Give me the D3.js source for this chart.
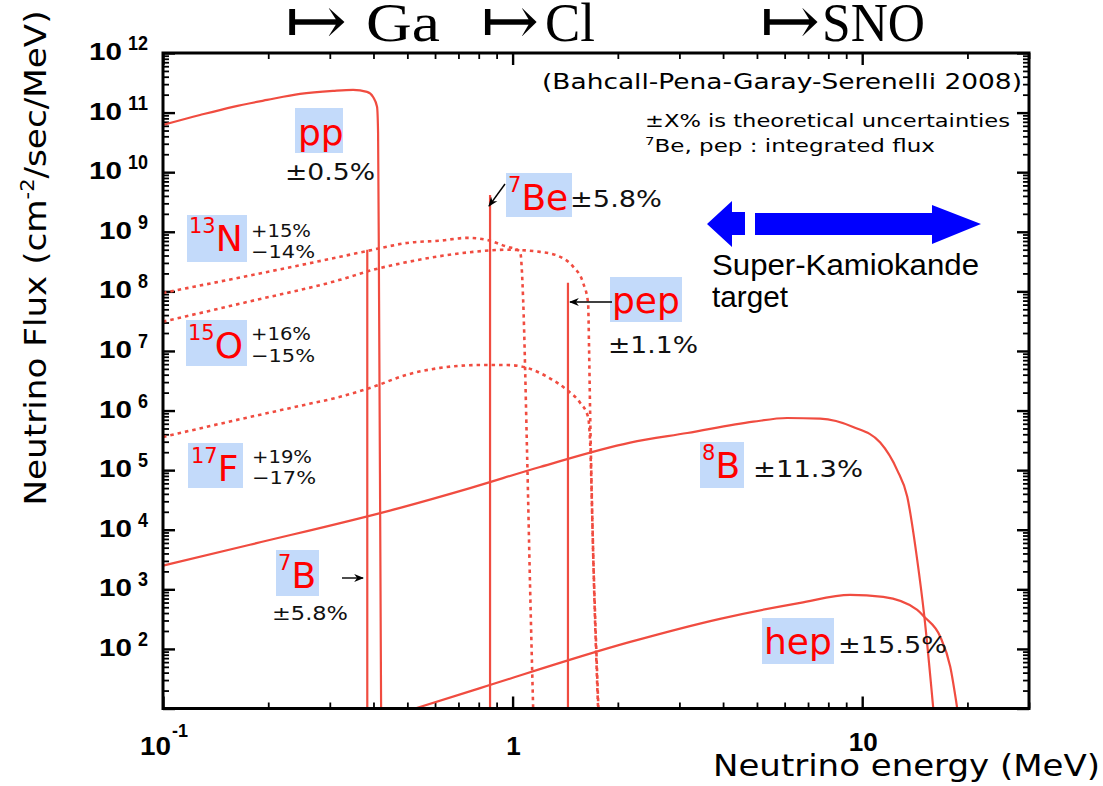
<!DOCTYPE html>
<html>
<head>
<meta charset="utf-8">
<script src="https://cdn.jsdelivr.net/npm/d3@7"></script>
<style>
body { margin: 0; background: #fff; }
svg { display: block; }
</style>
</head>
<body>
<div id="chart"></div>
<script>

// solar neutrino spectra, [energy (MeV), flux (cm^-2 s^-1 MeV^-1)]

var ppSpectrum = [[0.1, 6.2e10], [0.1276, 9.1e10], [0.1586, 1.25e11], [0.1985, 1.63e11], [0.2466, 2.06e11],
	[0.3064, 2.31e11], [0.3497, 2.40e11], [0.3834, 2.23e11], [0.399, 1.83e11], [0.4095, 1.25e11],
	[0.4123, 4.6e10], [0.415, 7.2e7], [0.4178, 3.2e4], [0.4206, 10]];

var n13Spectrum = [[0.1, 9.4e7], [0.1773, 1.85e8], [0.2466, 2.75e8], [0.3208, 3.8e8], [0.399, 5.0e8],
	[0.4991, 6.5e8], [0.6202, 7.1e8], [0.7411, 7.9e8], [0.8452, 7.3e8], [0.9645, 5.6e8], [1.03, 5.0e8],
	[1.051, 4.6e8], [1.072, 7.2e7], [1.10, 1.95e5], [1.122, 1.1e3], [1.145, 10]];

var o15Spectrum = [[0.1, 3.1e7], [0.1773, 6.8e7], [0.3208, 1.56e8], [0.399, 2.3e8], [0.4991, 3.1e8],
	[0.6202, 3.9e8], [0.7708, 4.6e8], [0.9645, 5.0e8], [1.198, 4.6e8], [1.368, 3.8e8], [1.49, 2.6e8],
	[1.591, 1.39e8], [1.644, 6.4e7], [1.655, 1.05e7], [1.666, 1.0e6], [1.70, 4.1e3], [1.756, 10]];

var f17Spectrum = [[0.1, 3.6e5], [0.1773, 7.8e5], [0.2466, 1.2e6], [0.3208, 1.7e6], [0.399, 2.5e6],
	[0.4991, 4.0e6], [0.6202, 5.2e6], [0.8073, 5.8e6], [0.9645, 5.8e6], [1.10, 5.2e6], [1.255, 3.7e6],
	[1.432, 2.2e6], [1.56, 1.35e6], [1.644, 7.8e5], [1.666, 3e5], [1.70, 4e3], [1.76, 10]];

var b8Spectrum = [[0.1, 2.5e3], [0.1773, 5.6e3], [0.4767, 2.33e4], [0.7556, 5.0e4], [1.198, 1.13e5],
	[2.17, 2.9e5], [3.16, 4.2e5], [4.88, 6.5e5], [6.10, 7.5e5], [7.58, 7.3e5], [9.42, 5.3e5],
	[11.26, 2.9e5], [12.59, 1.0e5], [13.45, 3.6e4], [14.37, 3.1e3], [15.04, 373], [15.97, 10]];

var hepSpectrum = [[0.526, 10], [0.8073, 22], [2.17, 131], [3.92, 320], [6.65, 593], [9.24, 809],
	[11.48, 748], [14.37, 453], [15.04, 346], [16.72, 160], [17.86, 50], [18.7, 10]];

// monoenergetic lines (7Be 384 keV, 7Be 862 keV, pep), integrated flux
var lineEnergies = [0.384, 0.862, 1.44];
var lineFluxes = [5.0e8, 4.16e9, 1.39e8];

// axes
var xDomain = [0.1, 30],
	yDomain = [10, 1e12],
	xDecades = [0.1, 1, 10],
	yExponents = d3.range(1, 12),
	yLabelExponents = d3.range(2, 13),
	xTickLabels = [{ v: 0.1, base: "10", exp: "-1" }, { v: 1, base: "1", exp: "" }, { v: 10, base: "10", exp: "" }];

var width = 1103,
	height = 786,
	LEFT = 163, RIGHT = 1029, TOP = 53, BOTTOM = 708.5,
	CURVE_COLOR = "#f04c40",
	TAG_COLOR = "#ff0000",
	BOX_COLOR = "#c3dafa";

var svg = d3.select("#chart").append("svg")
	.attr("width", width)
	.attr("height", height)
	.style("font-family", "'DejaVu Sans', sans-serif");

var x = d3.scaleLog().domain(xDomain).range([LEFT, RIGHT]);
var y = d3.scaleLog().domain(yDomain).range([BOTTOM, TOP]);

svg.append("defs").append("clipPath").attr("id", "plot_clip")
	.append("rect")
	.attr("x", LEFT).attr("y", TOP)
	.attr("width", RIGHT - LEFT).attr("height", BOTTOM - TOP);

svg.select("defs").append("marker")
	.attr("id", "head")
	.attr("viewBox", "0 0 10 10")
	.attr("refX", 9).attr("refY", 5)
	.attr("markerWidth", 7).attr("markerHeight", 7)
	.attr("orient", "auto")
	.append("path")
	.attr("d", "M0,1 L10,5 L0,9 L3,5 Z")
	.attr("fill", "#000");

// tick values: 1..9 in each decade
var xTicks = [];
xDecades.forEach(function(dec) {
	d3.range(1, 10).forEach(function(k) {
		if (k * dec <= xDomain[1] * 1.0001) xTicks.push(k * dec);
	});
});
var yTicks = [];
yExponents.forEach(function(e) {
	d3.range(1, 10).forEach(function(k) { yTicks.push(k * Math.pow(10, e)); });
});
yTicks.push(yDomain[1]);

function isMajor(v) {
	var l = Math.log10(v);
	return Math.abs(l - Math.round(l)) < 1e-6;
}

function drawAxis(axis, transform) {
	var g = svg.append("g").attr("transform", transform).call(axis);
	g.select(".domain").remove();
	g.selectAll(".tick text").remove();
	g.selectAll(".tick line")
		.attr("stroke", "#000")
		.attr("stroke-width", function(d) { return isMajor(d) ? 2.4 : 1.8; })
		.each(function(d) {
			if (!isMajor(d)) return;
			var sel = d3.select(this);
			["x2", "y2"].forEach(function(a) {
				var v = +sel.attr(a);
				if (v) sel.attr(a, v * 2);
			});
		});
}

drawAxis(d3.axisBottom(x).tickValues(xTicks).tickSize(-6), "translate(0," + BOTTOM + ")");
drawAxis(d3.axisTop(x).tickValues(xTicks).tickSize(-6), "translate(0," + TOP + ")");
drawAxis(d3.axisLeft(y).tickValues(yTicks).tickSize(-6), "translate(" + LEFT + ",0)");
drawAxis(d3.axisRight(y).tickValues(yTicks).tickSize(-6), "translate(" + RIGHT + ",0)");

// spectra
var line = d3.line()
	.x(function(d) { return x(d[0]); })
	.y(function(d) { return y(d[1]); })
	.curve(d3.curveMonotoneX);

var plot = svg.append("g").attr("clip-path", "url(#plot_clip)");

var series = [
	{ data: ppSpectrum, dotted: false },
	{ data: n13Spectrum, dotted: true },
	{ data: o15Spectrum, dotted: true },
	{ data: f17Spectrum, dotted: true },
	{ data: b8Spectrum, dotted: false },
	{ data: hepSpectrum, dotted: false }
];

plot.selectAll(".spectrum")
	.data(series)
	.enter()
	.append("path")
	.attr("class", "spectrum")
	.attr("d", function(d) { return line(d.data); })
	.attr("fill", "none")
	.attr("stroke", CURVE_COLOR)
	.attr("stroke-width", function(d) { return d.dotted ? 2.6 : 2.2; })
	.attr("stroke-dasharray", function(d) { return d.dotted ? "3.5,4" : null; });

plot.selectAll(".mono")
	.data(lineEnergies)
	.enter()
	.append("line")
	.attr("class", "mono")
	.attr("x1", function(d) { return x(d); })
	.attr("x2", function(d) { return x(d); })
	.attr("y1", y(yDomain[0]))
	.attr("y2", function(d, i) { return y(lineFluxes[i]); })
	.attr("stroke", CURVE_COLOR)
	.attr("stroke-width", 2.2);

// frame
svg.append("rect")
	.attr("x", LEFT).attr("y", TOP)
	.attr("width", RIGHT - LEFT).attr("height", BOTTOM - TOP)
	.attr("fill", "none")
	.attr("stroke", "#000")
	.attr("stroke-width", 3);

// tick labels
var tickLabels = svg.append("g")
	.style("font-family", "'Liberation Sans', Arial, sans-serif")
	.style("font-weight", "bold")
	.attr("fill", "#000");

yLabelExponents.forEach(function(e) {
	var ty = y(Math.pow(10, e));
	var expW = String(e).length * 10;
	tickLabels.append("text")
		.attr("x", 148 - expW - 6).attr("y", ty + 7)
		.attr("text-anchor", "end")
		.attr("font-size", 23)
		.attr("textLength", 33).attr("lengthAdjust", "spacingAndGlyphs")
		.text("10");
	tickLabels.append("text")
		.attr("x", 148).attr("y", ty - 3)
		.attr("text-anchor", "end")
		.attr("font-size", 20)
		.attr("textLength", expW).attr("lengthAdjust", "spacingAndGlyphs")
		.text(e);
});

xTickLabels.forEach(function(t) {
	var tx = x(t.v);
	if (t.exp) {
		tickLabels.append("text")
			.attr("x", tx - 23).attr("y", 755)
			.attr("font-size", 25)
			.attr("textLength", 31).attr("lengthAdjust", "spacingAndGlyphs")
			.text(t.base);
		tickLabels.append("text")
			.attr("x", tx + 9).attr("y", 737)
			.attr("font-size", 19)
			.attr("textLength", 16).attr("lengthAdjust", "spacingAndGlyphs")
			.text(t.exp);
	} else {
		tickLabels.append("text")
			.attr("x", tx + 1).attr("y", t.base.length > 1 ? 751 : 755)
			.attr("text-anchor", "middle")
			.attr("font-size", 25)
			.attr("textLength", t.base.length * 14.5).attr("lengthAdjust", "spacingAndGlyphs")
			.text(t.base);
	}
});

// axis titles
var yTitle = svg.append("text")
	.attr("transform", "translate(46,258) rotate(-90)")
	.attr("text-anchor", "middle")
	.attr("font-size", 31)
	.attr("textLength", 495).attr("lengthAdjust", "spacingAndGlyphs");
yTitle.append("tspan").text("Neutrino Flux (cm");
yTitle.append("tspan").attr("font-size", 19).attr("dy", -12).text("-2");
yTitle.append("tspan").attr("dy", 12).text("/sec/MeV)");

svg.append("text")
	.attr("x", 713).attr("y", 776)
	.attr("font-size", 30)
	.attr("textLength", 387).attr("lengthAdjust", "spacingAndGlyphs")
	.text("Neutrino energy (MeV)");

// detector thresholds along the top
var thresholds = [
	{ text: "\u21a6", x: 285, len: 62, size: 68, y: 44 }, { text: "Ga", x: 366, len: 74, size: 54, y: 41 },
	{ text: "\u21a6", x: 481, len: 58, size: 68, y: 44 }, { text: "Cl", x: 545, len: 50, size: 54, y: 41 },
	{ text: "\u21a6", x: 760, len: 60, size: 68, y: 44 }, { text: "SNO", x: 822, len: 103, size: 54, y: 41 }
];
svg.selectAll(".threshold")
	.data(thresholds)
	.enter()
	.append("text")
	.attr("class", "threshold")
	.attr("x", function(d) { return d.x; })
	.attr("y", function(d) { return d.y; })
	.attr("font-size", function(d) { return d.size; })
	.style("font-family", "'Liberation Serif', 'DejaVu Serif', serif")
	.attr("textLength", function(d) { return d.len; })
	.attr("lengthAdjust", "spacingAndGlyphs")
	.text(function(d) { return d.text; });

// notes in the upper right
svg.append("text")
	.attr("x", 542).attr("y", 89)
	.attr("font-size", 22)
	.attr("textLength", 480).attr("lengthAdjust", "spacingAndGlyphs")
	.text("(Bahcall-Pena-Garay-Serenelli 2008)");

svg.append("text")
	.attr("x", 645).attr("y", 127)
	.attr("font-size", 17)
	.attr("textLength", 365).attr("lengthAdjust", "spacingAndGlyphs")
	.text("\u00b1X% is theoretical uncertainties");

var note2 = svg.append("text")
	.attr("x", 645).attr("y", 152)
	.attr("font-size", 17)
	.attr("textLength", 290).attr("lengthAdjust", "spacingAndGlyphs");
note2.append("tspan").attr("font-size", 11).attr("dy", -7).text("7");
note2.append("tspan").attr("dy", 7).text("Be, pep : integrated flux");

// source tags with light blue boxes
var tags = [
	{ box: [295, 108, 48, 45], sup: "", main: "pp", tx: 298, ty: 145 },
	{ box: [187, 215, 60, 47], sup: "13", main: "N", tx: 189, ty: 251 },
	{ box: [186, 320, 61, 46], sup: "15", main: "O", tx: 188, ty: 358 },
	{ box: [188, 443, 55, 45], sup: "17", main: "F", tx: 191, ty: 481 },
	{ box: [276, 550, 43, 46], sup: "7", main: "B", tx: 278, ty: 588 },
	{ box: [506, 173, 66, 44], sup: "7", main: "Be", tx: 508, ty: 210 },
	{ box: [610, 277, 72, 45], sup: "", main: "pep", tx: 612, ty: 313 },
	{ box: [700, 442, 44, 46], sup: "8", main: "B", tx: 702, ty: 478 },
	{ box: [762, 618, 72, 46], sup: "", main: "hep", tx: 764, ty: 654 }
];

var tagG = svg.selectAll(".tag")
	.data(tags)
	.enter()
	.append("g")
	.attr("class", "tag");

tagG.append("rect")
	.attr("x", function(d) { return d.box[0]; })
	.attr("y", function(d) { return d.box[1]; })
	.attr("width", function(d) { return d.box[2]; })
	.attr("height", function(d) { return d.box[3]; })
	.attr("fill", BOX_COLOR);

var tagText = tagG.append("text")
	.attr("x", function(d) { return d.tx; })
	.attr("y", function(d) { return d.ty; })
	.attr("fill", TAG_COLOR);
tagText.append("tspan")
	.attr("font-size", 21)
	.attr("dy", function(d) { return d.sup ? -18 : 0; })
	.text(function(d) { return d.sup; });
tagText.append("tspan")
	.attr("font-size", 36)
	.attr("dy", function(d) { return d.sup ? 18 : 0; })
	.text(function(d) { return d.main; });

// uncertainties
var errors = [
	{ text: "\u00b10.5%", x: 285, y: 180, size: 23, len: 90 },
	{ text: "+15%", x: 251, y: 237, size: 18, len: 60 },
	{ text: "\u221214%", x: 251, y: 258, size: 18, len: 64 },
	{ text: "+16%", x: 251, y: 340, size: 18, len: 60 },
	{ text: "\u221215%", x: 251, y: 362, size: 18, len: 64 },
	{ text: "+19%", x: 252, y: 463, size: 18, len: 60 },
	{ text: "\u221217%", x: 252, y: 484, size: 18, len: 64 },
	{ text: "\u00b15.8%", x: 272, y: 620, size: 20, len: 76 },
	{ text: "\u00b15.8%", x: 570, y: 207, size: 23, len: 92 },
	{ text: "\u00b11.1%", x: 608, y: 353, size: 23, len: 90 },
	{ text: "\u00b111.3%", x: 753, y: 477, size: 23, len: 110 },
	{ text: "\u00b115.5%", x: 838, y: 653, size: 23, len: 109 }
];

svg.selectAll(".err")
	.data(errors)
	.enter()
	.append("text")
	.attr("class", "err")
	.attr("x", function(d) { return d.x; })
	.attr("y", function(d) { return d.y; })
	.attr("font-size", function(d) { return d.size; })
	.attr("textLength", function(d) { return d.len; })
	.attr("lengthAdjust", "spacingAndGlyphs")
	.attr("fill", "#111")
	.text(function(d) { return d.text; });

// small pointer arrows
var pointers = [[505, 184, 489, 206], [612, 302, 570, 302], [342, 578, 363, 578]];
svg.selectAll(".pointer")
	.data(pointers)
	.enter()
	.append("line")
	.attr("class", "pointer")
	.attr("x1", function(d) { return d[0]; })
	.attr("y1", function(d) { return d[1]; })
	.attr("x2", function(d) { return d[2]; })
	.attr("y2", function(d) { return d[3]; })
	.attr("stroke", "#000")
	.attr("stroke-width", 1.4)
	.attr("marker-end", "url(#head)");

// Super-Kamiokande range arrows
var blueArrows = [
	[[745, 212], [732, 212], [732, 201], [707, 224], [732, 247], [732, 235], [745, 235]],
	[[755, 213], [932, 213], [932, 205], [981, 224], [932, 244], [932, 235], [755, 235]]
];
svg.selectAll(".sk")
	.data(blueArrows)
	.enter()
	.append("path")
	.attr("class", "sk")
	.attr("d", function(d) { return "M" + d.join("L") + "Z"; })
	.attr("fill", "#0000ff");

var sk = svg.append("g")
	.style("font-family", "'Liberation Sans', Arial, sans-serif")
	.attr("font-size", 30);
sk.append("text").attr("x", 712).attr("y", 275)
	.attr("textLength", 267).attr("lengthAdjust", "spacingAndGlyphs")
	.text("Super-Kamiokande");
sk.append("text").attr("x", 712).attr("y", 307)
	.attr("textLength", 76).attr("lengthAdjust", "spacingAndGlyphs")
	.text("target");

</script>
</body>
</html>
